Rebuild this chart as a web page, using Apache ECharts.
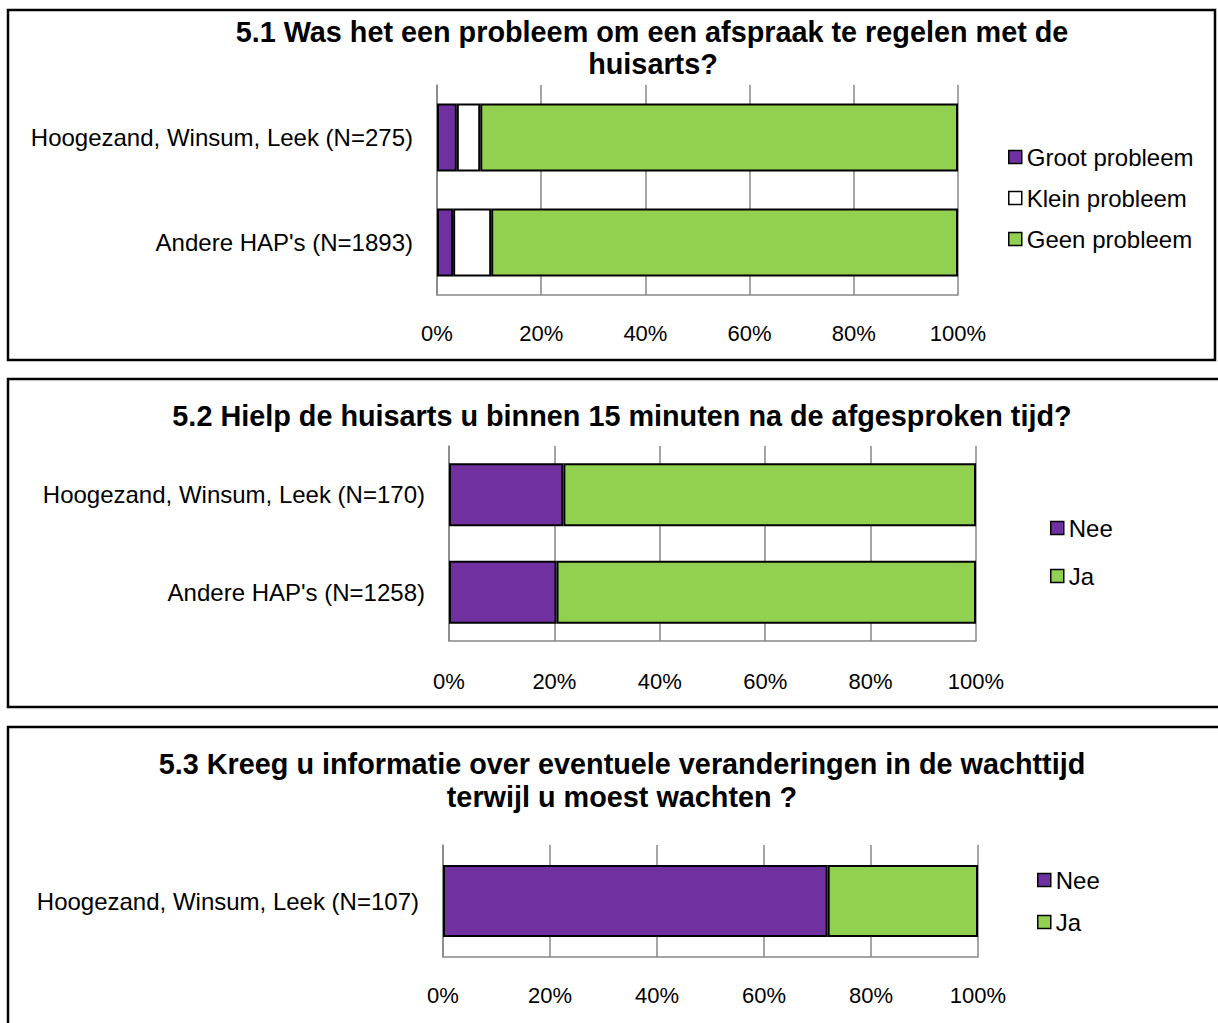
<!DOCTYPE html>
<html>
<head>
<meta charset="utf-8">
<title>Huisartsenpost vragen 5.1 - 5.3</title>
<script src="https://cdn.jsdelivr.net/npm/echarts@6/dist/echarts.min.js"></script>
<style>
  html, body { margin: 0; padding: 0; background: #fff; }
  #chart { width: 1218px; height: 1023px; }
</style>
</head>
<body>
<div id="chart"></div>
<script>
// 5.1 afspraak regelen
const cats1 = ['Hoogezand, Winsum, Leek (N=275)', "Andere HAP's (N=1893)"];
const groot1 = [3.8, 3.1];
const klein1 = [4.5, 7.3];
const geen1 = [91.7, 89.6];

// 5.2 binnen 15 minuten geholpen
const cats2 = ['Hoogezand, Winsum, Leek (N=170)', "Andere HAP's (N=1258)"];
const nee2 = [21.7, 20.4];
const ja2 = [78.3, 79.6];

// 5.3 informatie over wachttijd
const cats3 = ['Hoogezand, Winsum, Leek (N=107)'];
const nee3 = [71.9];
const ja3 = [28.1];

const pctTicks = [0, 20, 40, 60, 80, 100];

const PURPLE = '#7030A0';
const GREEN = '#92D050';
const WHITE = '#FFFFFF';
const GRID_GREY = '#878787';
const FONT = '"Liberation Sans", Arial, sans-serif';

const chart = echarts.init(document.getElementById('chart'), null, { renderer: 'svg' });

const valueAxis = (gridIndex, margin) => ({
  type: 'value',
  gridIndex,
  min: pctTicks[0],
  max: pctTicks[pctTicks.length - 1],
  interval: 20,
  axisLine: { show: true, lineStyle: { color: GRID_GREY, width: 1.5 } },
  axisTick: { show: false },
  splitLine: { show: true, lineStyle: { color: GRID_GREY, width: 1.5 } },
  axisLabel: { formatter: '{value}%', color: '#000', fontSize: 22, fontFamily: FONT, margin },
});

const catAxis = (gridIndex, data) => ({
  type: 'category',
  gridIndex,
  data,
  inverse: true,
  axisLine: { show: true, lineStyle: { color: GRID_GREY, width: 1.5 } },
  axisTick: { show: false },
  axisLabel: { color: '#000', fontSize: 24, fontFamily: FONT, margin: 24 },
});

const bar = (name, data, color, idx, stack, width) => ({
  name,
  type: 'bar',
  stack,
  xAxisIndex: idx,
  yAxisIndex: idx,
  barWidth: width,
  data,
  itemStyle: { color, borderColor: '#000', borderWidth: 2 },
  emphasis: { disabled: true },
});

const legend = (data, left, top, gap) => ({
  data,
  orient: 'vertical',
  left,
  top,
  padding: 0,
  itemGap: gap,
  itemWidth: 13,
  itemHeight: 13,
  icon: 'rect',
  itemStyle: { borderColor: '#000', borderWidth: 1.5 },
  textStyle: { color: '#000', fontSize: 24, fontFamily: FONT, lineHeight: 24 },
  selectedMode: false,
});

const titleText = (text, x, y) => ({
  type: 'text',
  x,
  y,
  style: {
    text,
    fill: '#000',
    font: 'bold 28.8px ' + FONT,
    textAlign: 'center',
    textVerticalAlign: 'middle',
  },
});

const panel = (x, y, w, h) => ({
  type: 'rect',
  shape: { x, y, width: w, height: h },
  style: { fill: 'none', stroke: '#000', lineWidth: 2.5 },
  z: -1,
});

chart.setOption({
  animation: false,
  grid: [
    { left: 437, top: 85, width: 521, height: 210 },
    { left: 449, top: 446, width: 527, height: 195 },
    { left: 443, top: 845, width: 535, height: 112 },
  ],
  xAxis: [valueAxis(0, 27), valueAxis(1, 29), valueAxis(2, 27)],
  yAxis: [catAxis(0, cats1), catAxis(1, cats2), catAxis(2, cats3)],
  legend: [
    legend(['Groot probleem', 'Klein probleem', 'Geen probleem'], 1008, 145, 17),
    legend(['Nee', 'Ja'], 1050, 516, 24),
    legend(['Nee', 'Ja'], 1037, 868, 18),
  ],
  graphic: [
    panel(8, 10, 1207, 350),
    panel(8, 379, 1240, 328),
    panel(8, 727, 1240, 330),
    titleText('5.1 Was het een probleem om een afspraak te regelen met de', 652, 32),
    titleText('huisarts?', 653, 64),
    titleText('5.2 Hielp de huisarts u binnen 15 minuten na de afgesproken tijd?', 622, 416),
    titleText('5.3 Kreeg u informatie over eventuele veranderingen in de wachttijd', 622, 764),
    titleText('terwijl u moest wachten ?', 622, 797),
  ],
  series: [
    bar('Groot probleem', groot1, PURPLE, 0, 's1', 68),
    bar('Klein probleem', klein1, WHITE, 0, 's1', 68),
    bar('Geen probleem', geen1, GREEN, 0, 's1', 68),
    bar('Nee', nee2, PURPLE, 1, 's2', 63),
    bar('Ja', ja2, GREEN, 1, 's2', 63),
    bar('Nee', nee3, PURPLE, 2, 's3', 72),
    bar('Ja', ja3, GREEN, 2, 's3', 72),
  ],
});

window.addEventListener('resize', () => chart.resize());
</script>
</body>
</html>
